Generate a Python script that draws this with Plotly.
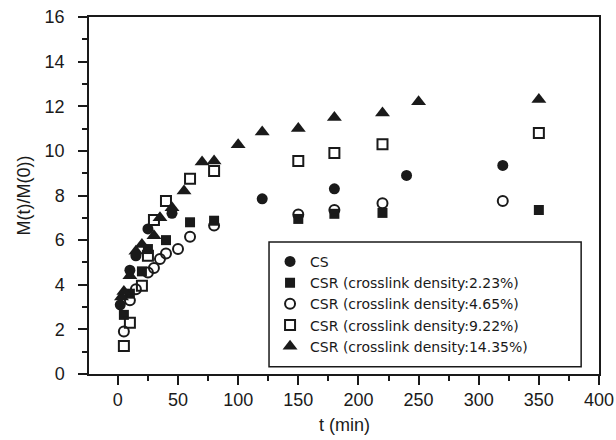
import plotly.graph_objects as go

# ---- data ----
cs_t = [2, 10, 15, 25, 45, 120, 180, 240, 320]
cs_y = [3.1, 4.65, 5.3, 6.5, 7.2, 7.85, 8.3, 8.9, 9.35]

c223_t = [5, 10, 20, 25, 40, 60, 80, 150, 180, 220, 350]
c223_y = [2.65, 3.6, 4.6, 5.6, 6.0, 6.8, 6.87, 6.95, 7.18, 7.22, 7.35]

c465_t = [5, 10, 15, 25, 30, 35, 40, 50, 60, 80, 150, 180, 220, 320]
c465_y = [1.9, 3.3, 3.8, 4.55, 4.75, 5.15, 5.4, 5.6, 6.15, 6.65, 7.15, 7.35, 7.65, 7.75]

c922_t = [5, 10, 20, 25, 30, 40, 60, 80, 150, 180, 220, 350]
c922_y = [1.25, 2.3, 3.95, 5.3, 6.9, 7.75, 8.75, 9.1, 9.55, 9.9, 10.3, 10.8]

c1435_t = [3, 5, 10, 15, 20, 30, 35, 45, 55, 70, 80, 100, 120, 150, 180, 220, 250, 350]
c1435_y = [3.45, 3.7, 4.4, 5.5, 5.8, 6.2, 7.0, 7.45, 8.2, 9.5, 9.55, 10.27, 10.85, 11.0, 11.5, 11.7, 12.2, 12.3]

names = ["CS",
         "CSR (crosslink density:2.23%)",
         "CSR (crosslink density:4.65%)",
         "CSR (crosslink density:9.22%)",
         "CSR (crosslink density:14.35%)"]

x_ticks = [0, 50, 100, 150, 200, 250, 300, 350, 400]
y_ticks = [0, 2, 4, 6, 8, 10, 12, 14, 16]

FONT = "Liberation Sans, Arial, sans-serif"
LFONT = "DejaVu Sans, sans-serif"
INK = "#1a1a1a"

fig = go.Figure()
series = [
    (cs_t, cs_y, dict(symbol="circle", size=11, color=INK)),
    (c223_t, c223_y, dict(symbol="square", size=10, color=INK)),
    (c465_t, c465_y, dict(symbol="circle-open", size=10, color=INK, line=dict(width=2, color=INK))),
    (c922_t, c922_y, dict(symbol="square-open", size=10, color=INK, line=dict(width=2, color=INK))),
    (c1435_t, c1435_y, dict(symbol="triangle-up", size=13, color=INK)),
]
for (t, y, m), n in zip(series, names):
    fig.add_trace(go.Scatter(x=t, y=y, mode="markers", name=n, marker=m))

axis_common = dict(
    showline=True, linecolor=INK, linewidth=1.5, mirror=True,
    ticks="outside", tickcolor=INK, tickwidth=1.5, ticklen=9,
    showgrid=False, zeroline=False, automargin=False,
    tickfont=dict(family=FONT, size=18, color=INK),
)

fig.update_xaxes(range=[-24, 400], tickvals=x_ticks,
                 minor=dict(dtick=25, tick0=0, ticks="outside", ticklen=5, tickwidth=1.5, tickcolor=INK),
                 ticklabelstandoff=0,
                 **axis_common)
fig.update_yaxes(range=[0, 16], tickvals=y_ticks,
                 minor=dict(dtick=1, tick0=0, ticks="outside", ticklen=5, tickwidth=1.5, tickcolor=INK),
                 ticklabelstandoff=10,
                 **axis_common)

# axis titles as annotations (pixel-precise placement)
fig.add_annotation(text="t (min)", xref="paper", yref="paper", x=0.5, y=0,
                   yshift=-51, xanchor="center", yanchor="middle", showarrow=False,
                   font=dict(family=FONT, size=18, color=INK))
fig.add_annotation(text="M(t)/M(0))", xref="paper", yref="paper", x=0, y=0.5,
                   xshift=-66, xanchor="center", yanchor="middle", showarrow=False,
                   textangle=-90, font=dict(family=FONT, size=18, color=INK))

fig.add_shape(type="rect", xref="paper", yref="paper",
              x0=0.353, x1=0.965, y0=0.02, y1=0.37,
              line=dict(color=INK, width=1.5), fillcolor="rgba(0,0,0,0)")

fig.update_layout(
    width=616, height=440,
    margin=dict(l=89, r=17, t=17, b=66),
    paper_bgcolor="white", plot_bgcolor="white",
    showlegend=True,
    legend=dict(x=0.355, y=0.359, xanchor="left", yanchor="top",
                bgcolor="rgba(0,0,0,0)", borderwidth=0,
                font=dict(family=LFONT, size=14, color=INK),
                tracegroupgap=0, itemsizing="trace"),
)

fig.write_html("out.html")
